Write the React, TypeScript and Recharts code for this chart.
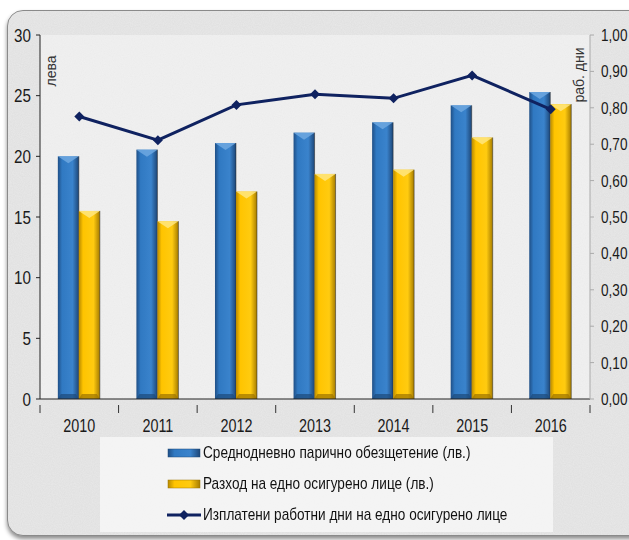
import React from 'react';
import {
  ComposedChart,
  Bar,
  Line,
  XAxis,
  YAxis,
  CartesianGrid,
} from 'recharts';

const years = ['2010', '2011', '2012', '2013', '2014', '2015', '2016'];
const dailyComp = [20.0, 20.55, 21.1, 21.95, 22.8, 24.2, 25.3];
const costPerPerson = [15.5, 14.65, 17.1, 18.55, 18.9, 21.55, 24.3];
const paidDays = [0.776, 0.711, 0.808, 0.837, 0.826, 0.889, 0.796];

const leftTicks = [0, 5, 10, 15, 20, 25, 30];
const rightTicks = [0, 0.1, 0.2, 0.3, 0.4, 0.5, 0.6, 0.7, 0.8, 0.9, 1.0];

const seriesNames = [
  'Среднодневно парично обезщетение (лв.)',
  'Разход на едно осигурено лице (лв.)',
  'Изплатени работни дни на едно осигурено лице',
];

const data = years.map((year, i) => ({
  year,
  dailyComp: dailyComp[i],
  costPerPerson: costPerPerson[i],
  paidDays: paidDays[i],
}));

const FONT = '"Liberation Sans", Arial, sans-serif';
const NAVY = '#0f2260';
const NARROW = 0.8; // fake the narrow office font

// bevelled bar, like the old office 3d look
const makeBevelBar = (gradId: string, topColor: string, bottomColor: string) => (props: any) => {
  const { x, y, width, height } = props;
  if (!height || height <= 0) return null;
  const bevel = Math.min(7, height / 2);
  return (
    <g>
      <rect x={x} y={y} width={width} height={height} fill={`url(#${gradId})`} />
      <polygon
        points={`${x},${y} ${x + width},${y} ${x + width / 2},${y + bevel}`}
        fill={topColor}
        opacity={0.85}
      />
      <polygon
        points={`${x},${y + height} ${x + width},${y + height} ${x + width - 3},${y + height - 5} ${x + 3},${y + height - 5}`}
        fill={bottomColor}
        opacity={0.7}
      />
      <line x1={x + width} y1={y} x2={x + width} y2={y + height} stroke="#222" strokeOpacity={0.5} />
    </g>
  );
};

const BlueBar = makeBevelBar('gradBlue', '#6fa8e0', '#1c4a7a');
const YellowBar = makeBevelBar('gradYellow', '#ffe680', '#9c7400');

const Diamond = (props: any) => {
  const { cx, cy } = props;
  if (cx == null || cy == null) return null;
  const s = 5;
  return (
    <polygon
      points={`${cx},${cy - s} ${cx + s},${cy} ${cx},${cy + s} ${cx - s},${cy}`}
      fill={NAVY}
    />
  );
};

const NarrowText = ({ x, y, anchor, size, children }: any) => (
  <text
    transform={`translate(${x},${y}) scale(${NARROW},1)`}
    textAnchor={anchor}
    dy="0.35em"
    fontSize={size}
    fill="#1a1a1a"
    fontFamily={FONT}
  >
    {children}
  </text>
);

// year label with the tick line drawn on the category boundary
const YearTick = (props: any) => {
  const { x, y, payload, index } = props;
  const half = payload.offset || 0;
  return (
    <g>
      <line x1={x - half} y1={y - 2} x2={x - half} y2={y + 6} stroke="#333" />
      {index === years.length - 1 && (
        <line x1={x + half} y1={y - 2} x2={x + half} y2={y + 6} stroke="#333" />
      )}
      <NarrowText x={x} y={y + 19} anchor="middle" size={18}>
        {payload.value}
      </NarrowText>
    </g>
  );
};

const LeftTick = (props: any) => (
  <NarrowText x={props.x} y={props.y} anchor="end" size={19}>
    {props.payload.value}
  </NarrowText>
);

const RightTick = (props: any) => (
  <NarrowText x={props.x} y={props.y} anchor="start" size={17}>
    {Number(props.payload.value).toFixed(2).replace('.', ',')}
  </NarrowText>
);

const LegendBox = () => (
  <div
    style={{
      position: 'absolute',
      left: 100,
      top: 437,
      width: 453,
      height: 95,
      background: 'rgba(248,248,248,0.8)',
      fontFamily: FONT,
      fontSize: 17,
      color: '#111',
    }}
  >
    {seriesNames.map((name, i) => (
      <div
        key={name}
        style={{ position: 'absolute', left: 67, top: 6 + i * 31, height: 20, display: 'flex', alignItems: 'center', whiteSpace: 'nowrap' }}
      >
        <svg width={34} height={14} style={{ marginRight: 2, flex: 'none' }}>
          {i === 0 && <rect x={1} y={3} width={32} height={8} fill="url(#gradBlue)" stroke="#1c4a7a" strokeWidth={0.5} />}
          {i === 1 && <rect x={1} y={3} width={32} height={8} fill="url(#gradYellow)" stroke="#9c7400" strokeWidth={0.5} />}
          {i === 2 && (
            <g>
              <line x1={0} y1={7} x2={34} y2={7} stroke={NAVY} strokeWidth={3} />
              <polygon points="17,2 22,7 17,12 12,7" fill={NAVY} />
            </g>
          )}
        </svg>
        <span style={{ display: 'inline-block', transform: `scaleX(${NARROW})`, transformOrigin: 'left center' }}>
          {name}
        </span>
      </div>
    ))}
  </div>
);

export default function App() {
  return (
    <div style={{ position: 'relative', width: 629, height: 540, overflow: 'hidden', background: '#fff' }}>
      <style>{'html,body{margin:0;padding:0;overflow:hidden;}'}</style>
      <div
        style={{
          position: 'absolute',
          left: 7,
          top: 10,
          width: 650,
          height: 524,
          borderRadius: 16,
          border: '1px solid #8a8a8a',
          background: '#e9e9e9',
          boxShadow: '0 3px 4px rgba(0,0,0,0.45)',
          overflow: 'hidden',
        }}
      >
        <svg width={650} height={524} style={{ position: 'absolute', left: 0, top: 0 }}>
          <filter id="grain">
            <feTurbulence type="fractalNoise" baseFrequency="0.9" numOctaves={2} seed={3} />
            <feColorMatrix type="matrix" values="0 0 0 0 0.6  0 0 0 0 0.6  0 0 0 0 0.6  0 0 0 0.35 0" />
          </filter>
          <rect width={650} height={524} filter="url(#grain)" />
        </svg>
      </div>
      <div style={{ position: 'absolute', left: 0, top: 0 }}>
        <ComposedChart
          width={629}
          height={540}
          data={data}
          margin={{ top: 35, right: 0, bottom: 111, left: 0 }}
          barCategoryGap="22.7%"
          barGap={0}
        >
          <defs>
            <linearGradient id="gradBlue" x1="0" y1="0" x2="1" y2="0">
              <stop offset="0%" stopColor="#1f4f86" />
              <stop offset="20%" stopColor="#3079c2" />
              <stop offset="70%" stopColor="#3a83cc" />
              <stop offset="100%" stopColor="#1d4677" />
            </linearGradient>
            <linearGradient id="gradYellow" x1="0" y1="0" x2="1" y2="0">
              <stop offset="0%" stopColor="#b88a00" />
              <stop offset="20%" stopColor="#ffc400" />
              <stop offset="70%" stopColor="#ffcb10" />
              <stop offset="100%" stopColor="#a67c00" />
            </linearGradient>
          </defs>
          <CartesianGrid horizontal={false} vertical={false} fill="rgba(250,250,250,0.45)" />
          <XAxis
            dataKey="year"
            xAxisId="x"
            height={30}
            axisLine={{ stroke: '#222' }}
            tickLine={false}
            tick={<YearTick />}
            interval={0}
          />
          <YAxis
            yAxisId="left"
            orientation="left"
            width={40}
            domain={[0, 30]}
            ticks={leftTicks}
            interval={0}
            axisLine={{ stroke: '#222' }}
            tickLine={{ stroke: '#222' }}
            tickSize={4}
            tickMargin={5}
            tick={<LeftTick />}
            label={{
              content: (p: any) => {
                const vb = p.viewBox;
                return (
                  <text
                    transform={`translate(${vb.x + vb.width + 16},${vb.y + 36}) rotate(-90)`}
                    textAnchor="middle"
                    fontSize={14}
                    fill="#333"
                    fontFamily={FONT}
                  >
                    лева
                  </text>
                );
              },
            }}
          />
          <YAxis
            yAxisId="right"
            orientation="right"
            width={39}
            domain={[0, 1]}
            ticks={rightTicks}
            interval={0}
            axisLine={{ stroke: '#aaa' }}
            tickLine={{ stroke: '#aaa' }}
            tickSize={4}
            tickMargin={7}
            tick={<RightTick />}
            label={{
              content: (p: any) => {
                const vb = p.viewBox;
                return (
                  <text
                    transform={`translate(${vb.x - 6},${vb.y + 40}) rotate(-90)`}
                    textAnchor="middle"
                    fontSize={14}
                    fill="#333"
                    fontFamily={FONT}
                  >
                    раб. дни
                  </text>
                );
              },
            }}
          />
          <Bar
            dataKey="dailyComp"
            name={seriesNames[0]}
            xAxisId="x"
            yAxisId="left"
            shape={BlueBar}
            isAnimationActive={false}
          />
          <Bar
            dataKey="costPerPerson"
            name={seriesNames[1]}
            xAxisId="x"
            yAxisId="left"
            shape={YellowBar}
            isAnimationActive={false}
          />
          <Line
            dataKey="paidDays"
            name={seriesNames[2]}
            xAxisId="x"
            yAxisId="right"
            type="linear"
            stroke={NAVY}
            strokeWidth={3}
            dot={<Diamond />}
            activeDot={false}
            isAnimationActive={false}
          />
        </ComposedChart>
      </div>
      <LegendBox />
    </div>
  );
}
